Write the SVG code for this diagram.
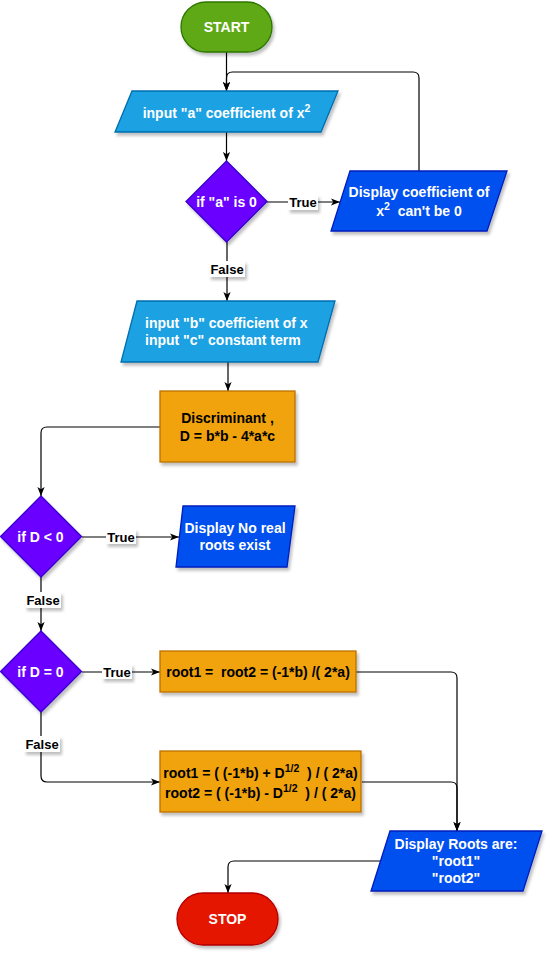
<svg xmlns="http://www.w3.org/2000/svg" width="553" height="956" viewBox="0 0 553 956">
<defs>
<filter id="sh" x="-20%" y="-20%" width="150%" height="150%">
<feDropShadow dx="2" dy="3" stdDeviation="1.5" flood-color="#000" flood-opacity="0.25"/>
</filter>
<marker id="arr" viewBox="0 0 10 8" markerUnits="userSpaceOnUse" markerWidth="9" markerHeight="7.5" refX="10" refY="4" orient="auto">
<path d="M0,0 L10,4 L0,8 L2.5,4 Z" fill="#000"/>
</marker>
<style>
text{font-family:"Liberation Sans",Arial,sans-serif;font-weight:bold;font-size:14px;text-anchor:middle;white-space:pre}
.w{fill:#fff}
.k{fill:#000}
.lbl{font-size:13px}
.sup{font-size:10.5px}
.edge{fill:none;stroke:#000;stroke-width:1.2}
.lb{fill:#fff;filter:url(#sh)}
.green{fill:#60a917;stroke:#2d7600;stroke-width:1.3;filter:url(#sh)}
.red{fill:#e51400;stroke:#b20000;stroke-width:1.3;filter:url(#sh)}
.inp{fill:#1ba1e2;stroke:#006eaf;stroke-width:1.3;filter:url(#sh)}
.disp{fill:#0050ef;stroke:#001dbc;stroke-width:1.3;filter:url(#sh)}
.dia{fill:#6a00ff;stroke:#3700cc;stroke-width:1.3;filter:url(#sh)}
.org{fill:#f0a30a;stroke:#bd7000;stroke-width:1.3;filter:url(#sh)}
</style>
</defs>
<rect width="553" height="956" fill="#fff"/>

<g id="connectors">
<path class="edge" d="M226.5,52 V91" marker-end="url(#arr)"/>
<path class="edge" d="M419,171 V78 Q419,72 413,72 H232.5 Q226.5,72 226.5,78 V91" marker-end="url(#arr)"/>
<path class="edge" d="M226.5,132 V161" marker-end="url(#arr)"/>
<path class="edge" d="M267,202 H340" marker-end="url(#arr)"/>
<path class="edge" d="M227,242 V301" marker-end="url(#arr)"/>
<path class="edge" d="M228,362 V391" marker-end="url(#arr)"/>
<path class="edge" d="M160,427 H47 Q41,427 41,433 V496" marker-end="url(#arr)"/>
<path class="edge" d="M82,537 H179" marker-end="url(#arr)"/>
<path class="edge" d="M41,577 V631" marker-end="url(#arr)"/>
<path class="edge" d="M82,672 H160" marker-end="url(#arr)"/>
<path class="edge" d="M41,712 V776 Q41,782 47,782 H160" marker-end="url(#arr)"/>
<path class="edge" d="M356,672 H451 Q457,672 457,678 V831" marker-end="url(#arr)"/>
<path class="edge" d="M362,782 H451 Q457,782 457,788 V831" marker-end="url(#arr)"/>
<path class="edge" d="M381,861 H234 Q228,861 228,867 V893" marker-end="url(#arr)"/>
<g id="edge-labels">
<rect class="lb" x="288" y="195" width="30" height="15"/>
<text class="k lbl" x="303" y="207">True</text>
<rect class="lb" x="209" y="261" width="36" height="16"/>
<text class="k lbl" x="227" y="274">False</text>
<rect class="lb" x="106" y="529" width="30" height="15"/>
<text class="k lbl" x="121" y="542">True</text>
<rect class="lb" x="25" y="592" width="36" height="16"/>
<text class="k lbl" x="43" y="605">False</text>
<rect class="lb" x="102" y="664" width="30" height="15"/>
<text class="k lbl" x="117" y="677">True</text>
<rect class="lb" x="24" y="736" width="36" height="16"/>
<text class="k lbl" x="42" y="749">False</text>
</g>
</g>

<g id="start">
<rect class="green" x="181" y="2" width="91" height="50" rx="25" ry="25"/>
<text class="w" x="226.5" y="32">START</text>
</g>

<g id="input-a">
<polygon class="inp" points="132,91 338,91 321,132 115,132"/>
<text class="w" x="226.5" y="118">input "a" coefficient of x<tspan class="sup" dy="-6">2</tspan></text>
</g>

<g id="if-a-zero">
<polygon class="dia" points="226.5,161 267,201.5 226.5,242 186,201.5"/>
<text class="w" x="226.5" y="206.5">if "a" is 0</text>
</g>

<g id="display-coef">
<polygon class="disp" points="350,171 507,171 487,231 331,231"/>
<text class="w" x="419" y="196.5">Display coefficient of</text>
<text class="w" x="419" y="216">x<tspan class="sup" dy="-6">2</tspan><tspan dy="6">  can't be 0</tspan></text>
</g>

<g id="input-bc">
<polygon class="inp" points="137,301 335,301 318,362 121,362"/>
<text class="w" x="145" y="328" style="text-anchor:start">input "b" coefficient of x</text>
<text class="w" x="145" y="345" style="text-anchor:start">input "c" constant term</text>
</g>

<g id="discriminant">
<rect class="org" x="160" y="391" width="135" height="71"/>
<text class="k" x="227.5" y="422.5">Discriminant ,</text>
<text class="k" x="227.5" y="441">D = b*b - 4*a*c</text>
</g>

<g id="if-d-lt-0">
<polygon class="dia" points="41,496 81.5,536.5 41,577 0.5,536.5"/>
<text class="w" x="40.5" y="541.5">if D &lt; 0</text>
</g>

<g id="display-no-real">
<polygon class="disp" points="183,506 295,506 287,567 176,567"/>
<text class="w" x="235" y="533">Display No real</text>
<text class="w" x="235" y="550">roots exist</text>
</g>

<g id="if-d-eq-0">
<polygon class="dia" points="41,631 81.5,671.5 41,712 0.5,671.5"/>
<text class="w" x="40.5" y="676.5">if D = 0</text>
</g>

<g id="equal-roots">
<rect class="org" x="160" y="651" width="196" height="41"/>
<text class="k" x="258" y="676.5">root1 =  root2 = (-1*b) /( 2*a)</text>
</g>

<g id="distinct-roots">
<rect class="org" x="160" y="751" width="201" height="61"/>
<text class="k" x="260.5" y="778">root1 = ( (-1*b) + D<tspan class="sup" dy="-6">1/2</tspan><tspan dy="6">  ) / ( 2*a)</tspan></text>
<text class="k" x="260.5" y="798">root2 = ( (-1*b) - D<tspan class="sup" dy="-6">1/2</tspan><tspan dy="6">  ) / ( 2*a)</tspan></text>
</g>

<g id="display-roots">
<polygon class="disp" points="390,831 542,831 523,891 371,891"/>
<text class="w" x="456" y="849">Display Roots are:</text>
<text class="w" x="456" y="866">"root1"</text>
<text class="w" x="456" y="883">"root2"</text>
</g>

<g id="stop">
<rect class="red" x="177" y="893" width="101" height="52" rx="26" ry="26"/>
<text class="w" x="227.5" y="924">STOP</text>
</g>
</svg>
